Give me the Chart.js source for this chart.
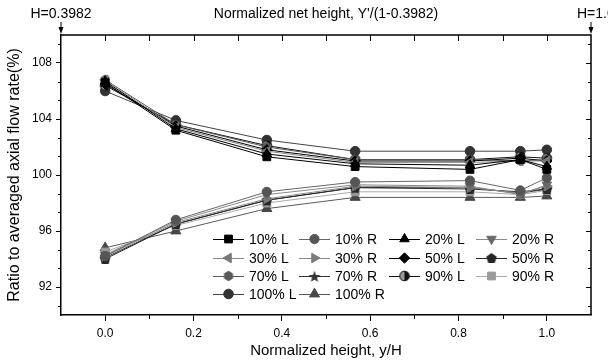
<!DOCTYPE html>
<html><head><meta charset="utf-8">
<script src="https://cdn.jsdelivr.net/npm/chart.js@4.4.1/dist/chart.umd.min.js"></script>
<style>html,body{margin:0;padding:0;background:#fff}canvas{display:block}</style>
</head><body>
<canvas id="c" width="608" height="363"></canvas>
<script>
// ---- data ----
const heights = [0, 0.16, 0.366, 0.566, 0.826, 0.94, 1.0];
const seriesLabels = ['10% L','10% R','20% L','20% R','30% L','30% R','50% L','50% R','70% L','70% R','90% L','90% R','100% L','100% R'];
const l10  = [106.6, 103.2, 101.3, 100.6, 100.4, 101.1, 100.4];
const r10  = [94.2, 96.8, 98.8, 99.5, 99.6, 98.9, 99.8];
const l20  = [106.7, 103.3, 101.5, 100.8, 100.7, 101.1, 100.6];
const r20  = [94.3, 96.7, 98.6, 99.3, 99.2, 98.6, 99.3];
const l30  = [106.8, 103.4, 101.7, 100.9, 100.9, 101.0, 101.0];
const r30  = [94.2, 96.6, 98.3, 99.2, 99.1, 98.7, 99.2];
const l50  = [106.5, 103.5, 101.8, 101.0, 101.0, 101.2, 101.0];
const r50  = [94.0, 96.5, 98.2, 99.1, 99.0, 98.8, 99.0];
const l70  = [106.8, 103.6, 102.0, 101.1, 101.1, 101.0, 101.1];
const r70  = [94.1, 96.5, 98.2, 99.1, 99.1, 98.7, 99.0];
const l90  = [106.4, 103.6, 102.1, 101.1, 101.1, 101.3, 101.2];
const r90  = [94.5, 96.4, 98.0, 98.8, 98.8, 98.6, 98.9];
const l100 = [106.0, 103.9, 102.5, 101.7, 101.7, 101.7, 101.8];
const r100 = [94.8, 96.0, 97.6, 98.4, 98.4, 98.4, 98.5];
const seriesValues = [l10, r10, l20, r20, l30, r30, l50, r50, l70, r70, l90, r90, l100, r100];
const xTickValues = [0, 0.2, 0.4, 0.6, 0.8, 1.0];
const xMinorValues = [0.1, 0.3, 0.5, 0.7, 0.9];
const topTickValues = [0, 0.1, 0.2, 0.3, 0.4, 0.5, 0.6, 0.7, 0.8, 0.9, 1.0];
const yTickValues = [92, 96, 100, 104, 108];
const yMinorValues = [90.667, 93.333, 94.667, 97.333, 98.667, 101.333, 102.667, 105.333, 106.667, 109.333];
const topTitle = "Normalized net height, Y'/(1-0.3982)";
const topLeftLabel = 'H=0.3982';
const topRightLabel = 'H=1.0';
const xTitle = 'Normalized height, y/H';
const yTitle = 'Ratio to averaged axial flow rate(%)';

// ---- styling ----
const FONT = 'Arial, "Liberation Sans", Helvetica, sans-serif';
function makeMarker(size, draw){ const c=document.createElement('canvas'); c.width=c.height=size; const g=c.getContext('2d'); draw(g,size/2); return c; }
function poly(g,cx,cy,r,n,rot,color){ g.beginPath(); for(let i=0;i<n;i++){const a=rot+i*2*Math.PI/n; const px=cx+r*Math.cos(a), py=cy+r*Math.sin(a); i?g.lineTo(px,py):g.moveTo(px,py);} g.closePath(); g.fillStyle=color; g.fill(); }
const pentagonMk = makeMarker(12,(g,h)=>poly(g,h,h+0.5,5.5,5,-Math.PI/2,'#262626'));
const hexagonMk = makeMarker(12,(g,h)=>poly(g,h,h,5.2,6,-Math.PI/2,'#5a5a5a'));
const starMk = makeMarker(14,(g,h)=>{ g.beginPath(); for(let i=0;i<10;i++){const r=i%2?2.6:6.2; const a=-Math.PI/2+i*Math.PI/5; const px=h+r*Math.cos(a), py=h+1+r*Math.sin(a); i?g.lineTo(px,py):g.moveTo(px,py);} g.closePath(); g.fillStyle='#333'; g.fill(); });
const halfMk = makeMarker(12,(g,h)=>{ g.beginPath(); g.arc(h,h,4.8,0,2*Math.PI); g.fillStyle='#111'; g.fill(); g.beginPath(); g.arc(h,h,4.8,Math.PI*0.5,Math.PI*1.5); g.closePath(); g.fillStyle='#9a9a9a'; g.fill(); g.beginPath(); g.arc(h,h,4.8,0,2*Math.PI); g.strokeStyle='#111'; g.lineWidth=1; g.stroke(); });

const seriesStyles = [
  {color:'#000000', line:'#000000', style:'rect', r:5.5, rot:0},
  {color:'#555555', line:'#666666', style:'circle', r:4.6, rot:0},
  {color:'#000000', line:'#000000', style:'triangle', r:5.5, rot:0},
  {color:'#6a6a6a', line:'#8a8a8a', style:'triangle', r:5.5, rot:180},
  {color:'#787878', line:'#8a8a8a', style:'triangle', r:5.5, rot:-90},
  {color:'#7a7a7a', line:'#8a8a8a', style:'triangle', r:5.5, rot:90},
  {color:'#000000', line:'#000000', style:'rectRot', r:5.2, rot:0},
  {color:'#262626', line:'#262626', style:pentagonMk, r:5, rot:0},
  {color:'#5a5a5a', line:'#5a5a5a', style:hexagonMk, r:5, rot:0},
  {color:'#333333', line:'#333333', style:starMk, r:5, rot:0},
  {color:'#111111', line:'#111111', style:halfMk, r:5, rot:0},
  {color:'#999999', line:'#aaaaaa', style:'rect', r:5.5, rot:0},
  {color:'#333333', line:'#444444', style:'circle', r:4.8, rot:0},
  {color:'#474747', line:'#5a5a5a', style:'triangle', r:5.8, rot:0}
];

const datasets = seriesLabels.map((label,i)=>{
  const s = seriesStyles[i];
  return {
    label,
    data: heights.map((x,j)=>({x, y: seriesValues[i][j]})),
    showLine: true,
    borderColor: s.line,
    borderWidth: 1,
    backgroundColor: s.color,
    pointBackgroundColor: s.color,
    pointBorderColor: s.color,
    pointBorderWidth: 1,
    pointStyle: s.style,
    pointRotation: s.rot,
    pointRadius: s.r,
    pointHoverRadius: s.r
  };
});

const legendCols = [213, 299, 389, 476];
const legendRows = [239, 258, 276, 294];

const framePlugin = {
  id: 'frame',
  afterDraw(chart){
    const ctx = chart.ctx, a = chart.chartArea, xs = chart.scales.x, ys = chart.scales.y;
    ctx.save();
    ctx.strokeStyle = '#000'; ctx.lineWidth = 1.5;
    ctx.beginPath();
    ctx.moveTo(a.left, a.top); ctx.lineTo(a.right, a.top); ctx.lineTo(a.right, a.bottom);
    ctx.stroke();
    ctx.lineWidth = 1;
    ctx.beginPath();
    topTickValues.forEach(v=>{ const x = Math.round(xs.getPixelForValue(v))+0.5; ctx.moveTo(x, a.top); ctx.lineTo(x, a.top+6); });
    xMinorValues.forEach(v=>{ const x = Math.round(xs.getPixelForValue(v))+0.5; ctx.moveTo(x, a.bottom); ctx.lineTo(x, a.bottom+4); });
    yTickValues.forEach(v=>{ const y = Math.round(ys.getPixelForValue(v))+0.5; ctx.moveTo(a.right, y); ctx.lineTo(a.right-5, y); });
    yMinorValues.forEach(v=>{ const y = Math.round(ys.getPixelForValue(v))+0.5; ctx.moveTo(a.left, y); ctx.lineTo(a.left-3, y); ctx.moveTo(a.right, y); ctx.lineTo(a.right-3, y); });
    ctx.stroke();
    // arrows
    [a.left, a.right].forEach(x=>{
      ctx.beginPath(); ctx.moveTo(x, 22); ctx.lineTo(x, 29); ctx.stroke();
      ctx.beginPath(); ctx.moveTo(x-2.5, 27); ctx.lineTo(x+2.5, 27); ctx.lineTo(x, a.top-1); ctx.closePath(); ctx.fillStyle='#000'; ctx.fill();
    });
    ctx.fillStyle = '#000'; ctx.textBaseline = 'middle'; ctx.textAlign = 'center';
    ctx.font = '14px ' + FONT;
    ctx.fillText(topTitle, (a.left + a.right)/2, 14);
    ctx.fillText(topLeftLabel, a.left, 14);
    ctx.textAlign = 'left';
    ctx.fillText(topRightLabel, a.right - 14, 14);
    // legend
    chart.data.datasets.forEach((ds,i)=>{
      const x0 = legendCols[i%4], y = legendRows[Math.floor(i/4)];
      ctx.strokeStyle = ds.borderColor; ctx.lineWidth = 1;
      ctx.beginPath(); ctx.moveTo(x0, y+0.5); ctx.lineTo(x0+31, y+0.5); ctx.stroke();
      const ps = ds.pointStyle;
      if (ps instanceof HTMLCanvasElement) {
        ctx.drawImage(ps, x0+15.5-ps.width/2, y-ps.height/2);
      } else {
        ctx.fillStyle = ds.pointBackgroundColor; ctx.strokeStyle = ds.pointBorderColor; ctx.lineWidth = 1;
        Chart.helpers.drawPoint(ctx, {pointStyle: ps, rotation: ds.pointRotation, radius: ds.pointRadius, borderWidth: 1}, x0+15.5, y);
      }
      ctx.fillStyle = '#000'; ctx.font = '14px ' + FONT; ctx.textAlign='left'; ctx.textBaseline='middle';
      ctx.fillText(ds.label, x0+36, y+1);
    });
    ctx.restore();
  }
};

new Chart(document.getElementById('c'), {
  type: 'scatter',
  data: { datasets },
  options: {
    responsive: false, animation: false, events: [],
    layout: { padding: { top: 35, right: 17, left: 0, bottom: 0 } },
    plugins: { legend: { display: false }, tooltip: { enabled: false } },
    scales: {
      x: {
        type: 'linear', min: -0.1, max: 1.1,
        afterBuildTicks: s => { s.ticks = xTickValues.map(v=>({value:v})); },
        afterFit: s => { s.height = 48; },
        grid: { drawOnChartArea: false, drawTicks: true, tickLength: 6, color: '#000', tickWidth: 1 },
        border: { display: true, color: '#000', width: 1.5 },
        ticks: { color: '#000', font: { family: FONT, size: 12 }, padding: 5, maxRotation: 0, callback: v => Number(v).toFixed(1) },
        title: { display: true, text: xTitle, color: '#000', font: { family: FONT, size: 15 }, padding: { top: 0, bottom: 3 } }
      },
      y: {
        type: 'linear', min: 90, max: 110,
        afterBuildTicks: s => { s.ticks = yTickValues.map(v=>({value:v})); },
        afterFit: s => { s.width = 61; },
        grid: { drawOnChartArea: false, drawTicks: true, tickLength: 5, color: '#000', tickWidth: 1 },
        border: { display: true, color: '#000', width: 1.5 },
        ticks: { color: '#000', font: { family: FONT, size: 12 }, padding: 4, callback: v => String(v) },
        title: { display: true, text: yTitle, color: '#000', font: { family: FONT, size: 16 }, padding: { top: 5, bottom: 0 } }
      }
    }
  },
  plugins: [framePlugin]
});
</script>
</body></html>
